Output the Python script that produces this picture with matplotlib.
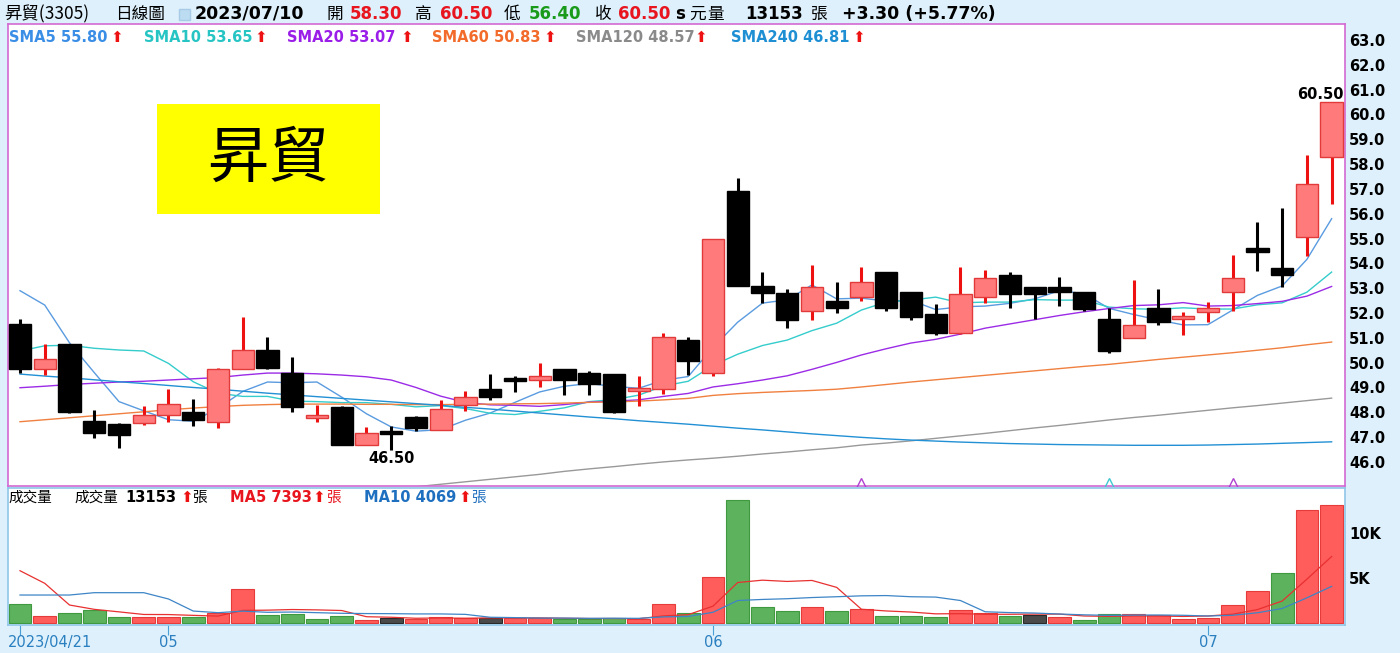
import numpy as np
import matplotlib
matplotlib.use('Agg')
import matplotlib.pyplot as plt
import matplotlib.transforms as mtransforms
from matplotlib.patches import Rectangle

# ---- data (昇貿 3305, daily, 2023/04/21 - 2023/07/10) ----
tick_pos = [0, 6, 28, 48]
tick_labels = ['2023/04/21', '05', '06', '07']

opens = [51.55, 49.73, 50.75, 47.65, 47.53, 47.55, 47.90, 48.00, 47.60, 49.75,
         50.50, 49.60, 47.80, 48.20, 46.70, 47.20, 47.80, 47.30, 48.30, 48.95,
         49.35, 49.30, 49.75, 49.60, 49.55, 48.85, 48.95, 50.90, 49.60, 56.90,
         53.10, 52.80, 52.10, 52.50, 52.65, 53.65, 52.85, 51.95, 51.20, 52.65,
         53.55, 53.05, 53.05, 52.85, 51.75, 51.00, 52.20, 51.75, 52.05, 52.85,
         54.60, 53.80, 55.05, 58.30]
highs = [51.75, 50.75, 50.75, 48.10, 47.55, 48.25, 48.95, 48.55, 49.80, 51.85,
         51.05, 50.22, 48.30, 48.25, 47.40, 47.45, 47.85, 48.50, 48.85, 49.55,
         49.45, 50.00, 49.75, 49.65, 49.55, 49.45, 51.20, 51.05, 55.00, 57.45,
         53.65, 52.95, 53.95, 53.25, 53.85, 53.65, 52.85, 52.35, 53.85, 53.75,
         53.65, 53.05, 53.45, 52.85, 52.20, 53.35, 52.95, 52.05, 52.45, 54.35,
         55.65, 56.25, 58.35, 60.50]
lows = [49.60, 49.51, 47.98, 46.98, 46.55, 47.50, 47.60, 47.45, 47.38, 49.73,
        49.73, 48.03, 47.62, 46.67, 46.70, 46.50, 47.25, 47.30, 48.05, 48.50,
        48.80, 49.00, 48.70, 48.70, 47.98, 48.25, 48.75, 49.50, 49.45, 53.10,
        52.40, 51.40, 51.70, 52.00, 52.50, 52.10, 51.70, 51.10, 51.15, 52.40,
        52.20, 51.75, 52.30, 52.10, 50.40, 51.00, 51.50, 51.10, 51.65, 52.10,
        53.70, 53.05, 54.30, 56.40]
closes = [49.73, 50.15, 48.00, 47.15, 47.10, 47.90, 48.35, 47.70, 49.75, 50.50,
          49.80, 48.20, 47.85, 46.70, 47.15, 47.15, 47.35, 48.15, 48.60, 48.60,
          49.30, 49.45, 49.30, 49.15, 48.00, 48.95, 51.05, 50.05, 55.00, 53.10,
          52.80, 51.70, 53.05, 52.20, 53.25, 52.20, 51.85, 51.20, 52.75, 53.40,
          52.75, 52.75, 52.85, 52.15, 50.45, 51.50, 51.65, 51.85, 52.20, 53.40,
          54.45, 53.55, 57.20, 60.50]

sma5 = [52.90, 52.32, 50.80, 49.60, 48.43, 48.06, 47.70, 47.64, 48.16, 48.84,
        49.22, 49.19, 49.22, 48.61, 47.94, 47.41, 47.24, 47.30, 47.68, 47.97,
        48.40, 48.82, 49.05, 49.16, 49.04, 48.97, 49.29, 49.44, 50.61, 51.63,
        52.40, 52.53, 53.13, 52.57, 52.60, 52.48, 52.51, 52.14, 52.25, 52.28,
        52.39, 52.57, 52.90, 52.78, 52.19, 51.94, 51.72, 51.52, 51.53, 52.12,
        52.71, 53.09, 54.16, 55.80]
sma10 = [50.47, 50.68, 50.70, 50.58, 50.51, 50.47, 49.97, 49.23, 48.77, 48.64,
         48.64, 48.45, 48.43, 48.39, 48.39, 48.32, 48.22, 48.27, 48.15, 47.96,
         47.91, 48.04, 48.18, 48.43, 48.51, 48.69, 49.06, 49.25, 49.89, 50.34,
         50.69, 50.91, 51.29, 51.59, 52.12, 52.44, 52.52, 52.64, 52.41, 52.44,
         52.44, 52.54, 52.52, 52.52, 52.24, 52.17, 52.15, 52.21, 52.16, 52.16,
         52.33, 52.41, 52.84, 53.65]
sma20 = [48.99, 49.05, 49.12, 49.17, 49.22, 49.25, 49.30, 49.35, 49.40, 49.50,
         49.58, 49.58, 49.55, 49.50, 49.43, 49.30, 49.00, 48.65, 48.40, 48.30,
         48.28, 48.24, 48.31, 48.41, 48.45, 48.50, 48.64, 48.76, 49.02, 49.15,
         49.30, 49.47, 49.73, 50.01, 50.31, 50.56, 50.79, 50.94, 51.15, 51.39,
         51.56, 51.73, 51.90, 52.05, 52.18, 52.30, 52.33, 52.42, 52.28, 52.30,
         52.38, 52.47, 52.68, 53.07]
sma60 = [47.62, 47.70, 47.78, 47.86, 47.94, 48.02, 48.10, 48.17, 48.23, 48.28,
         48.31, 48.33, 48.33, 48.33, 48.32, 48.32, 48.31, 48.31, 48.32, 48.33,
         48.34, 48.35, 48.37, 48.40, 48.42, 48.45, 48.50, 48.56, 48.68, 48.75,
         48.80, 48.84, 48.88, 48.93, 49.02, 49.12, 49.22, 49.31, 49.40, 49.49,
         49.58, 49.67, 49.76, 49.85, 49.93, 50.03, 50.13, 50.22, 50.31, 50.40,
         50.50, 50.60, 50.72, 50.83]
sma120 = [None] * 16 + [
         45.00, 45.10, 45.20, 45.30, 45.40, 45.50, 45.62, 45.72, 45.81,
         45.91, 46.00, 46.08, 46.15, 46.23, 46.32, 46.40, 46.49, 46.57, 46.68,
         46.76, 46.85, 46.95, 47.05, 47.15, 47.26, 47.37, 47.47, 47.58, 47.69,
         47.79, 47.88, 47.98, 48.08, 48.18, 48.27, 48.37, 48.47, 48.57]
sma240 = [49.54, 49.46, 49.39, 49.31, 49.23, 49.16, 49.08, 49.00, 48.93, 48.85,
          48.77, 48.70, 48.63, 48.56, 48.49, 48.42, 48.35, 48.28, 48.20, 48.13,
          48.05, 47.97, 47.89, 47.81, 47.74, 47.66, 47.59, 47.52, 47.44, 47.36,
          47.29, 47.21, 47.13, 47.06, 46.99, 46.93, 46.88, 46.84, 46.80, 46.77,
          46.74, 46.72, 46.70, 46.69, 46.68, 46.67, 46.67, 46.67, 46.68, 46.70,
          46.72, 46.75, 46.78, 46.81]

# volume in thousands of 張
volume = [2.11, 0.78, 1.15, 1.44, 0.70, 0.70, 0.70, 0.70, 1.07, 3.81,
          0.89, 1.04, 0.48, 0.74, 0.37, 0.56, 0.48, 0.67, 0.56, 0.59,
          0.52, 0.52, 0.44, 0.44, 0.56, 0.44, 2.07, 1.15, 5.15, 13.67,
          1.74, 1.37, 1.74, 1.30, 1.52, 0.78, 0.78, 0.70, 1.44, 1.15,
          0.78, 0.89, 0.70, 0.37, 0.95, 1.05, 0.85, 0.45, 0.60, 1.96,
          3.60, 5.60, 12.60, 13.153]
vol_ma5 = [5.81, 4.41, 2.00, 1.52, 1.24, 0.95, 0.94, 0.85, 0.77, 1.40,
           1.43, 1.50, 1.46, 1.39, 0.70, 0.64, 0.53, 0.56, 0.53, 0.57,
           0.56, 0.57, 0.53, 0.50, 0.50, 0.48, 0.79, 0.93, 1.87, 4.50,
           4.76, 4.62, 4.73, 3.96, 1.53, 1.34, 1.22, 1.02, 1.04, 0.97,
           0.97, 0.99, 0.99, 0.78, 0.74, 0.79, 0.78, 0.73, 0.78, 0.98,
           1.49, 2.44, 4.87, 7.39]
vol_ma10 = [3.11, 3.11, 3.11, 3.37, 3.37, 3.37, 2.67, 1.33, 1.15, 1.32,
            1.19, 1.22, 1.15, 1.08, 1.05, 1.04, 1.01, 1.01, 0.96, 0.64,
            0.60, 0.55, 0.55, 0.52, 0.53, 0.52, 0.68, 0.73, 1.19, 2.50,
            2.62, 2.70, 2.83, 2.92, 3.02, 3.05, 2.92, 2.88, 2.50, 1.25,
            1.16, 1.11, 1.00, 0.91, 0.85, 0.88, 0.89, 0.86, 0.78, 0.86,
            1.14, 1.61, 2.80, 4.07]

# ---- layout helpers (pixel coordinates of a 1400x653 canvas) ----
W, H = 1400, 653
BG = '#ddf0fb'
CJK = ['Noto Sans CJK TC', 'DejaVu Sans']
LAT = ['DejaVu Sans', 'Noto Sans CJK TC']
UP = '⬆'

fig = plt.figure(figsize=(W / 100, H / 100), dpi=100)
fig.patch.set_facecolor(BG)


def put(x, y, s, color='black', size=10.5, weight='normal', family=LAT, ha='left'):
    fig.text(x / W, 1 - y / H, s, color=color, fontsize=size, fontweight=weight,
             family=family, ha=ha, va='center')


left, right = 8, 1345
ax = fig.add_axes([left / W, 1 - 486 / H, (right - left) / W, (486 - 24) / H])
axv = fig.add_axes([left / W, 1 - 625 / H, (right - left) / W, (625 - 488) / H])

o = np.array(opens)
c = np.array(closes)
hi = np.array(highs)
lo = np.array(lows)
x = np.arange(len(c))
up = c >= o

# ---- candlesticks ----
wick_col = np.where(up, '#ee1111', '#000000')
ax.vlines(x, lo, hi, colors=wick_col, lw=2.2, zorder=3)
body_lo = np.minimum(o, c)
body_h = np.maximum(np.abs(c - o), 0.12)
body_lo = np.where(np.abs(c - o) < 0.12, (o + c) / 2 - 0.06, body_lo)
ax.bar(x, body_h, bottom=body_lo, width=0.9,
       color=np.where(up, '#ff7b7b', '#000000'),
       edgecolor=np.where(up, '#e23a3a', '#000000'), lw=1, zorder=4)

# moving averages
ma_styles = [(sma5, '#5a9be0'), (sma10, '#35cccc'), (sma20, '#9b2be6'),
             (sma60, '#f08040'), (sma120, '#999999'), (sma240, '#2290d4')]
for vals, col in ma_styles:
    v = np.array([np.nan if a is None else a for a in vals])
    ax.plot(x, v, color=col, lw=1.0, zorder=2)

# crossing markers at the panel floor
for xi, col in [(34, '#b040d0'), (44, '#40c8d0'), (49, '#b040d0')]:
    ax.plot(xi, 45.03, marker='^', ms=11, mfc='none', mec=col, mew=1, zorder=5, clip_on=True)

ax.set_xlim(-0.485, 53.54)
ax.set_ylim(45.03, 63.645)
ax.set_xticks([])
ax.yaxis.tick_right()
ax.set_yticks(np.arange(46, 63.5, 1.0))
ax.set_yticklabels([f'{v:.1f}' for v in np.arange(46, 63.5, 1.0)],
                   fontsize=10.5, fontweight='bold')
ax.tick_params(axis='y', length=0, pad=3)
for s in ax.spines.values():
    s.set_color('#d36ad3')
    s.set_linewidth(1.2)

# price extremes
ax.annotate('60.50', (53, 60.50), xytext=(-11, 8), textcoords='offset pixels',
            ha='center', va='center', fontsize=10.5, fontweight='bold')
ax.annotate('46.50', (15, 46.50), xytext=(0, -9), textcoords='offset pixels',
            ha='center', va='center', fontsize=10.5, fontweight='bold')

# yellow name box
fig.add_artist(Rectangle((157 / W, 1 - 214 / H), (380 - 157) / W, (214 - 104) / H,
                         transform=fig.transFigure, facecolor='#ffff00', edgecolor='none'))
put(268, 160, '昇貿', size=44, family=CJK, ha='center')

# ---- volume ----
diff = np.diff(c, prepend=c[0] + 1)
vcol = np.where(diff > 0, '#ff5c5c', np.where(diff < 0, '#5db35d', '#4a4a4a'))
vedge = np.where(diff > 0, '#e53b3b', np.where(diff < 0, '#3f9a3f', '#2a2a2a'))
axv.bar(x, volume, width=0.92, color=vcol, edgecolor=vedge, lw=0.8, zorder=2)
axv.plot(x, vol_ma5, color='#e83030', lw=0.9, zorder=3)
axv.plot(x, vol_ma10, color='#3d85c6', lw=0.9, zorder=3)
axv.set_xlim(-0.485, 53.54)
axv.set_ylim(-0.22, 15.0)
axv.yaxis.tick_right()
axv.set_yticks([5, 10])
axv.set_yticklabels(['5K', '10K'], fontsize=10.5, fontweight='bold')
axv.tick_params(axis='y', length=0, pad=3)
axv.set_xticks(tick_pos)
axv.set_xticklabels(tick_labels, fontsize=10.5, color='#2a7fc0')
axv.tick_params(axis='x', length=7, color='#4a9fd6', pad=0)
first = axv.get_xticklabels()[0]
first.set_horizontalalignment('left')
first.set_transform(first.get_transform() +
                    mtransforms.ScaledTranslation(-12 / 100, 0, fig.dpi_scale_trans))
for s in axv.spines.values():
    s.set_color('#8fc6e8')
    s.set_linewidth(1.2)

# ---- header line ----
put(4, 14, '昇貿(3305)', size=12.5, family=CJK)
put(115, 14, '日線圖', size=12, family=CJK)
fig.add_artist(Rectangle((179 / W, 1 - 20 / H), 11 / W, 11 / H, transform=fig.transFigure,
                         facecolor='#bcdcf2', edgecolor='#a8cce8'))
put(195, 14, '2023/07/10', size=12.5, weight='bold')
put(327, 14, '開', size=12, family=CJK)
put(350, 14, '58.30', color='#e8141e', size=12, weight='bold')
put(415, 14, '高', size=12, family=CJK)
put(440, 14, '60.50', color='#e8141e', size=12, weight='bold')
put(504, 14, '低', size=12, family=CJK)
put(529, 14, '56.40', color='#1a9a1a', size=12, weight='bold')
put(595, 14, '收', size=12, family=CJK)
put(618, 14, '60.50', color='#e8141e', size=12, weight='bold')
put(675, 14, 's', size=12, weight='bold')
put(689, 14, '元', size=12, family=CJK)
put(707, 14, '量', size=12, family=CJK)
put(745, 14, '13153', size=12, weight='bold')
put(811, 14, '張', size=12, family=CJK)
put(842, 14, '+3.30 (+5.77%)', size=12.5, weight='bold')

# ---- MA legend ----
legend = [(9, 'SMA5 55.80', '#3a8ee6', 110), (144, 'SMA10 53.65', '#27c4c4', 254),
          (287, 'SMA20 53.07', '#9a1ee8', 400), (432, 'SMA60 50.83', '#f26b2a', 543),
          (576, 'SMA120 48.57', '#8a8a8a', 694), (731, 'SMA240 46.81', '#1f8fd4', 852)]
for lx, txt, col, axx in legend:
    put(lx, 37, txt, color=col, size=10.5, weight='bold')
    put(axx, 37, UP, color='#ee1111', size=11)

# ---- volume legend ----
put(8, 498, '成交量', size=10.5, family=CJK)
put(74, 498, '成交量', size=10.5, family=CJK)
put(125, 498, '13153', size=10.5, weight='bold')
put(180, 498, UP, color='#ee1111', size=11)
put(192, 498, '張', size=10.5, family=CJK)
put(230, 498, 'MA5 7393', color='#e8141e', size=10.5, weight='bold')
put(312, 498, UP, color='#ee1111', size=11)
put(326, 498, '張', color='#e8141e', size=10.5, family=CJK)
put(364, 498, 'MA10 4069', color='#1e6fbf', size=10.5, weight='bold')
put(458, 498, UP, color='#ee1111', size=11)
put(471, 498, '張', color='#1e6fbf', size=10.5, family=CJK)

fig.savefig('out.png', dpi=100, facecolor=fig.get_facecolor())
